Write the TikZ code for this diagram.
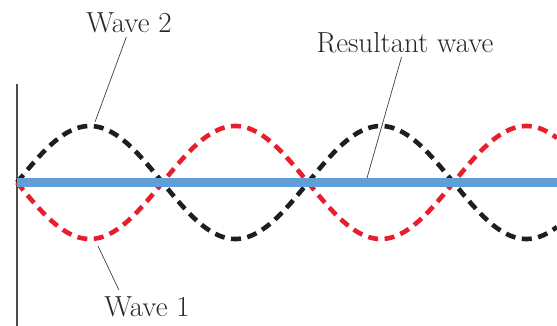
\documentclass[tikz,border=0pt]{standalone}
\usepackage{fontspec}
\usepackage{tikz}
\usetikzlibrary{positioning}
\definecolor{wavered}{RGB}{232,30,45}
\definecolor{waveblack}{RGB}{30,30,30}
\definecolor{waveblue}{RGB}{95,158,214}
\definecolor{labeltext}{RGB}{40,38,45}

\begin{document}
\begin{tikzpicture}[x=1pt, y=1pt,
    wave/.style={line width=4.6pt, dash pattern=on 10pt off 6.5pt},
    label/.style={font=\fontsize{29}{34}\selectfont, text=labeltext, anchor=base},
    leader/.style={line width=0.7pt, draw=black!75}]

    \useasboundingbox (-17,-143.5) rectangle (540,182.5);

    % --- Axis ---
    \draw[line width=1.2pt, black!70] (0,-143.5) -- (0,98.5);

    % --- Waves ---
    % Wave 2 (black) and Wave 1 (red), opposite in phase
    \draw[wave, waveblack] plot[domain=0:540, samples=200, smooth]
        (\x, {56.5*sin(\x/291*360)});
    \draw[wave, wavered] plot[domain=0:540, samples=200, smooth]
        (\x, {-56.5*sin(\x/291*360)});

    % Resultant wave (flat)
    \coordinate (origin) at (0,0);
    \coordinate (rightend) at (540,0);
    \draw[line width=9pt, waveblue] (origin) -- (rightend);

    % --- Labels ---
    \node[label] (wavetwo) at (112,149.5) {Wave 2};
    \node[label] (resultant) at (388,129.5) {Resultant wave};
    \node[label, inner ysep=1pt] (waveone) at (130,-134) {Wave 1};

    % Leader tips
    \coordinate (wavetwo tip) at (78,60.5);
    \coordinate (resultant tip) at (350,4.5);
    \coordinate (waveone tip) at (81,-63.5);

    \draw[leader] (wavetwo.259) -- (wavetwo tip);
    \draw[leader] (resultant.256) -- (resultant tip);
    \draw[leader, shorten <=6pt] (waveone.156) -- (waveone tip);

\end{tikzpicture}
\end{document}
